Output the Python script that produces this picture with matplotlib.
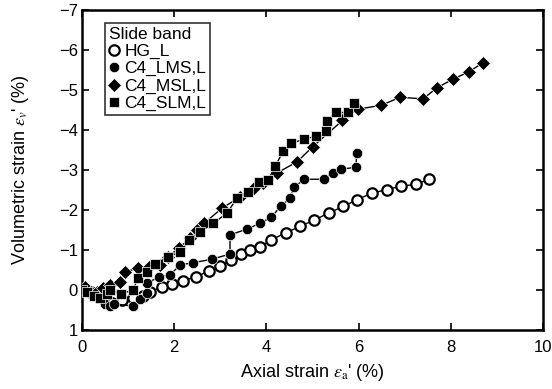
import matplotlib.pyplot as plt

plt.rcParams['font.family'] = ['Liberation Sans', 'DejaVu Sans']
plt.rcParams['mathtext.fontset'] = 'stix'

# HG_L (open circles)
hg_x = [0.05, 0.2, 0.35, 0.5, 0.65, 0.86, 1.1, 1.33, 1.47, 1.73, 1.95, 2.2, 2.47, 2.75, 3.0,
        3.23, 3.45, 3.65, 3.85, 4.1, 4.42, 4.73, 5.04, 5.36, 5.67, 5.97, 6.28, 6.61, 6.93, 7.24, 7.53]
hg_y = [0.0, 0.05, 0.12, 0.25, 0.33, 0.25, 0.2, 0.15, 0.04, -0.07, -0.15, -0.23, -0.33, -0.47, -0.6,
        -0.75, -0.9, -1.0, -1.07, -1.25, -1.43, -1.59, -1.75, -1.93, -2.09, -2.26, -2.42, -2.51, -2.6, -2.64, -2.77]

# C4_LMS,L (filled circles)
lms_x = [0.05, 0.2, 0.35, 0.5, 0.6, 0.7, 1.1, 1.25, 1.4, 1.4, 1.68, 1.91, 2.13, 2.4, 2.82, 3.21, 3.21,
         3.57, 3.86, 4.11, 4.31, 4.51, 4.6, 4.82, 5.24, 5.44, 5.62, 5.94, 5.96]
lms_y = [0.0, 0.1, 0.2, 0.35, 0.4, 0.35, 0.4, 0.22, 0.08, -0.18, -0.32, -0.38, -0.63, -0.68, -0.77, -0.9, -1.38,
         -1.52, -1.67, -1.82, -2.1, -2.29, -2.57, -2.77, -2.77, -2.93, -3.02, -3.07, -3.42]

# C4_MSL,L (diamonds)
msl_x = [0.07, 0.2, 0.32, 0.45, 0.61, 0.82, 0.93, 1.22, 1.45, 1.69, 1.87, 2.1, 2.34, 2.5, 2.65, 3.03,
         3.43, 3.73, 3.93, 4.22, 4.67, 5.0, 5.65, 5.98, 6.49, 6.9, 7.4, 7.69, 8.04, 8.4, 8.69]
msl_y = [-0.08, 0.05, 0.05, -0.05, -0.12, -0.21, -0.45, -0.55, -0.58, -0.62, -0.83, -1.05, -1.29, -1.5, -1.67, -2.04,
         -2.33, -2.54, -2.67, -2.92, -3.21, -3.58, -4.24, -4.52, -4.62, -4.82, -4.78, -5.05, -5.27, -5.46, -5.68]

# C4_SLM,L (squares)
slm_x = [0.0, 0.1, 0.25, 0.4, 0.55, 0.6, 0.85, 1.1, 1.22, 1.4, 1.58, 1.87, 2.13, 2.33, 2.56, 2.85, 3.14,
         3.36, 3.61, 3.83, 4.04, 4.19, 4.37, 4.53, 4.82, 5.08, 5.29, 5.32, 5.5, 5.76, 5.9]
slm_y = [0.0, 0.05, 0.15, 0.2, 0.1, 0.0, 0.1, 0.0, -0.29, -0.46, -0.64, -0.83, -0.95, -1.25, -1.46, -1.67, -1.92,
         -2.29, -2.46, -2.71, -2.75, -3.1, -3.48, -3.67, -3.77, -3.85, -3.98, -4.23, -4.44, -4.44, -4.68]

fig = plt.figure(figsize=(5.52, 3.89), dpi=100)
ax = fig.add_axes([0.1486, 0.1517, 0.8351, 0.8223])

ax.plot(hg_x, hg_y, '-o', color='black', lw=1, ms=7.5, mfc='white', mec='black', mew=1.6, label='HG_L', zorder=3)
ax.plot(lms_x, lms_y, '-o', color='black', lw=1, ms=7.5, mfc='black', mec='white', mew=0.5, label='C4_LMS,L', zorder=4)
ax.plot(msl_x, msl_y, '-D', color='black', lw=1, ms=7, mfc='black', mec='white', mew=0.5, label='C4_MSL,L', zorder=5)
ax.plot(slm_x, slm_y, '-s', color='black', lw=1, ms=7.5, mfc='black', mec='white', mew=0.5, label='C4_SLM,L', zorder=6)

ax.set_xlim(0, 10)
ax.set_ylim(1, -7)
ax.set_xticks([0, 2, 4, 6, 8, 10])
ax.set_yticks([1, 0, -1, -2, -3, -4, -5, -6, -7])
ax.tick_params(direction='in', length=5, width=1.2, top=True, right=True, labelsize=12)
ax.tick_params(axis='x', pad=7)
ax.tick_params(axis='y', pad=3)
for s in ax.spines.values():
    s.set_linewidth(1.8)

ax.set_xlabel(r"Axial strain $\mathit{\varepsilon}_{\rm a}$' (%)", fontsize=13, labelpad=5)
ax.set_ylabel(r"Volumetric strain $\mathit{\varepsilon}_{v}$' (%)", fontsize=13, labelpad=20)

leg = ax.legend(loc='upper left', title='Slide band', fontsize=12.5, title_fontsize=12.5,
                handlelength=0.6, handletextpad=0.3, borderpad=0.22, labelspacing=0.12,
                borderaxespad=0.0, frameon=True, fancybox=False, alignment='left',
                bbox_to_anchor=(0.05, 0.96))
leg.get_frame().set_edgecolor('black')
leg.get_frame().set_linewidth(1.2)
for h in leg.legend_handles:
    h.set_linestyle('none')

fig.savefig('out.png', dpi=100)
